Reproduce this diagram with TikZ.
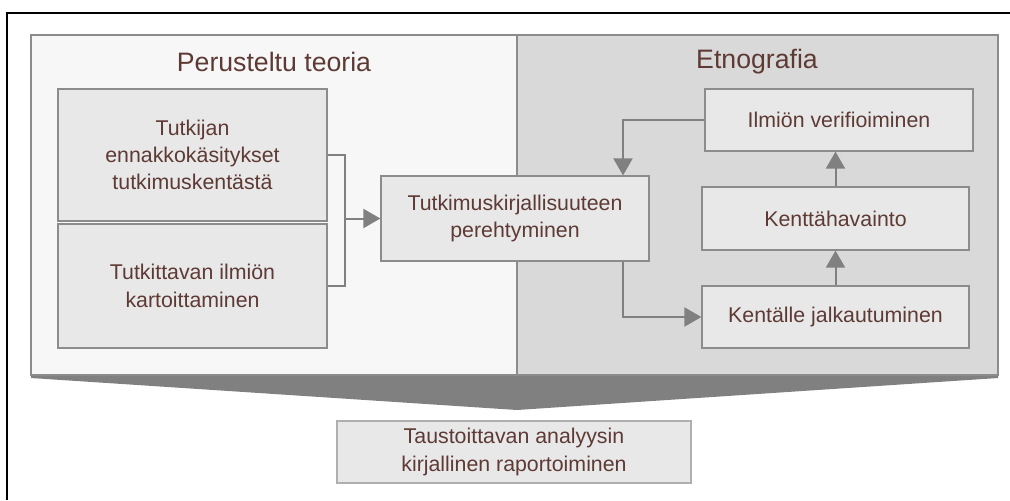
\documentclass[tikz,border=0pt]{standalone}
\usepackage{fontspec}
\setmainfont{Liberation Sans}
\usepackage{xcolor}
\usetikzlibrary{positioning,calc,arrows.meta}

\definecolor{textbrown}{RGB}{94,58,52}
\definecolor{boxfill}{RGB}{232,232,232}
\definecolor{boxline}{RGB}{140,140,140}
\definecolor{leftfill}{RGB}{247,247,247}
\definecolor{rightfill}{RGB}{217,217,217}
\definecolor{flowgray}{RGB}{128,128,128}

\tikzset{
    stagebox/.style={draw=boxline, fill=boxfill, line width=0.9pt, text=textbrown,
        align=center, inner sep=2pt, font=\fontsize{16}{20.5}\selectfont},
    paneltitle/.style={text=textbrown, font=\fontsize{20}{24}\selectfont},
    flow/.style={draw=flowgray, line width=1.5pt, -{Triangle[length=12.75pt, width=14.25pt]}},
    flowline/.style={draw=flowgray, line width=1.5pt}
}

\begin{document}
\begin{tikzpicture}[x=0.75pt, y=-0.75pt]
    \useasboundingbox (0, 0) rectangle (1010, 500);

    % Frame
    \draw [line width=1.5pt] (7, 500) -- (7, 12.5) -- (1010, 12.5);

    % Panels
    \draw [fill=flowgray, draw=none] (31, 374) -- (998, 374) -- (998, 378) -- (517, 410) -- (31, 378) -- cycle;
    \draw [fill=leftfill, draw=boxline, line width=0.9pt] (31, 35) rectangle (517, 375);
    \draw [fill=rightfill, draw=boxline, line width=0.9pt] (517, 35) rectangle (998, 375);
    \node [paneltitle] (gttitle) at (274, 62) {Perusteltu teoria};
    \node [paneltitle] (etitle) at (757, 62) {Etnografia};

    % Grounded theory stages
    \node [stagebox, minimum width=201.75pt, minimum height=99pt] (ennakko) at (192.5, 155)
        {Tutkijan\\ennakkokäsitykset\\tutkimuskentästä};
    \node [stagebox, minimum width=201.75pt, minimum height=93pt] (kartoitus) at (192.5, 286)
        {Tutkittavan ilmiön\\kartoittaminen};
    \node [stagebox, minimum width=201pt, minimum height=63.75pt] (kirjallisuus) at (515, 218.5)
        {Tutkimuskirjallisuuteen\\perehtyminen};

    % Ethnography stages
    \node [stagebox, minimum width=201pt, minimum height=46.5pt] (verifiointi) at (839, 120)
        {Ilmiön verifioiminen};
    \node [stagebox, minimum width=200.25pt, minimum height=47.25pt] (havainto) at (835.5, 218.5)
        {Kenttähavainto};
    \node [stagebox, minimum width=200.25pt, minimum height=46.5pt] (jalkautuminen) at (835.5, 317)
        {Kentälle jalkautuminen};

    % Report
    \node [stagebox, draw=boxline!70, minimum width=265.5pt, minimum height=46.5pt] (raportointi) at (514, 452)
        {Taustoittavan analyysin\\kirjallinen raportoiminen};

    % Connectors
    \coordinate (join) at (345, 218.5);
    \draw [flowline] (ennakko.east) -| (join);
    \draw [flowline] (kartoitus.east) -| (join);
    \draw [flow] (join) -- (kirjallisuus.west);
    \draw [flow] (verifiointi.west) -| ([xshift=81pt]kirjallisuus.north);
    \draw [flow] ([xshift=81pt]kirjallisuus.south) |- (jalkautuminen.west);
    \draw [flow] (jalkautuminen.north) -- (havainto.south);
    \draw [flow] (havainto.north) -- (havainto.north |- verifiointi.south);
\end{tikzpicture}
\end{document}
